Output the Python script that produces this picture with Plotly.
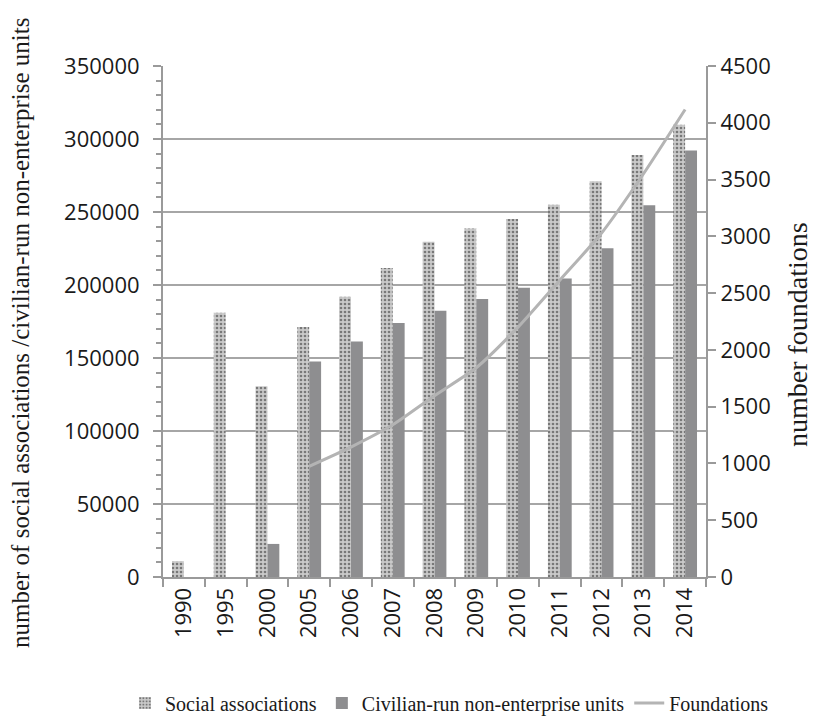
import plotly.graph_objects as go

years = ["1990", "1995", "2000", "2005", "2006", "2007", "2008", "2009", "2010", "2011", "2012", "2013", "2014"]
social_associations = [10855, 181000, 130668, 171150, 191946, 211661, 229681, 238747, 245256, 254969, 271131, 289026, 309736]
civilian_units = [None, None, 22654, 147637, 161303, 173915, 182382, 190479, 198175, 204388, 225108, 254670, 292195]
foundation_years = ["2005", "2006", "2007", "2008", "2009", "2010", "2011", "2012", "2013", "2014"]
foundations = [975, 1144, 1340, 1597, 1843, 2200, 2614, 3029, 3549, 4117]

left_ticks = [0, 50000, 100000, 150000, 200000, 250000, 300000, 350000]
right_ticks = [0, 500, 1000, 1500, 2000, 2500, 3000, 3500, 4000, 4500]

left_title = "number of social associations /civilian-run non-enterprise units"
right_title = "number foundations"

ink = "#1a1a1a"
axis_gray = "#9a9a9a"
tick_font = dict(family="Open Sans, sans-serif", size=22, color=ink)
serif = "Liberation Serif, Times New Roman, serif"

fig = go.Figure()
fig.add_trace(go.Bar(
    x=years, y=social_associations, name="Social associations",
    marker=dict(color="#c8c8c8", line=dict(width=0),
                pattern=dict(shape=".", fgcolor="#262626", bgcolor="#cacaca",
                             size=4, solidity=0.35, fillmode="overlay")),
))
fig.add_trace(go.Bar(
    x=years, y=civilian_units, name="Civilian-run non-enterprise units",
    marker=dict(color="#8e8e90", line=dict(width=0)),
))
fig.add_trace(go.Scatter(
    x=foundation_years, y=foundations, name="Foundations", yaxis="y2",
    mode="lines", line=dict(color="#b4b4b4", width=3, shape="spline", smoothing=0.6),
))

fig.add_annotation(text=left_title, textangle=-90, xref="paper", yref="paper",
                   x=(20 - 163) / 543, y=(577 - 333) / 511, xanchor="center", yanchor="middle",
                   showarrow=False, font=dict(family=serif, size=25, color=ink))
fig.add_annotation(text=right_title, textangle=-90, xref="paper", yref="paper",
                   x=(797 - 163) / 543, y=(577 - 335) / 511, xanchor="center", yanchor="middle",
                   showarrow=False, font=dict(family=serif, size=28, color=ink))

fig.update_layout(
    width=834, height=718,
    margin=dict(l=163, r=128, t=66, b=141, autoexpand=False),
    paper_bgcolor="white", plot_bgcolor="white",
    barmode="group", bargap=0.43, bargroupgap=0,
    showlegend=True,
    legend=dict(orientation="h", x=-0.07, xanchor="left", y=-0.2466, yanchor="middle",
                font=dict(family=serif, size=20, color=ink),
                itemwidth=30, traceorder="normal", tracegroupgap=0),
    xaxis=dict(
        type="category", showgrid=False, showline=True, linecolor=axis_gray, linewidth=2,
        ticks="outside", tickson="boundaries", ticklen=8, tickcolor=axis_gray, tickwidth=2,
        tickangle=-90, tickfont=tick_font, automargin=False,
    ),
    yaxis=dict(
        range=[0, 350000], tickvals=left_ticks, ticktext=[str(v) for v in left_ticks],
        showgrid=True, gridcolor="#a6a6a6", gridwidth=1.5,
        showline=True, linecolor=axis_gray, linewidth=2,
        ticks="outside", ticklen=8, tickcolor=axis_gray, tickwidth=2,
        ticklabelstandoff=9,
        minor=dict(dtick=10000, ticks="outside", ticklen=5, tickcolor=axis_gray, tickwidth=1.5, showgrid=False),
        tickfont=tick_font, zeroline=False, automargin=False,
    ),
    yaxis2=dict(
        overlaying="y", side="right", range=[0, 4500], tickvals=right_ticks,
        ticktext=[str(v) for v in right_ticks],
        showgrid=False, showline=True, linecolor=axis_gray, linewidth=2,
        ticks="outside", ticklen=8, tickcolor=axis_gray, tickwidth=2,
        tickfont=tick_font, zeroline=False, automargin=False,
    ),
)

fig.write_html("out.html")
